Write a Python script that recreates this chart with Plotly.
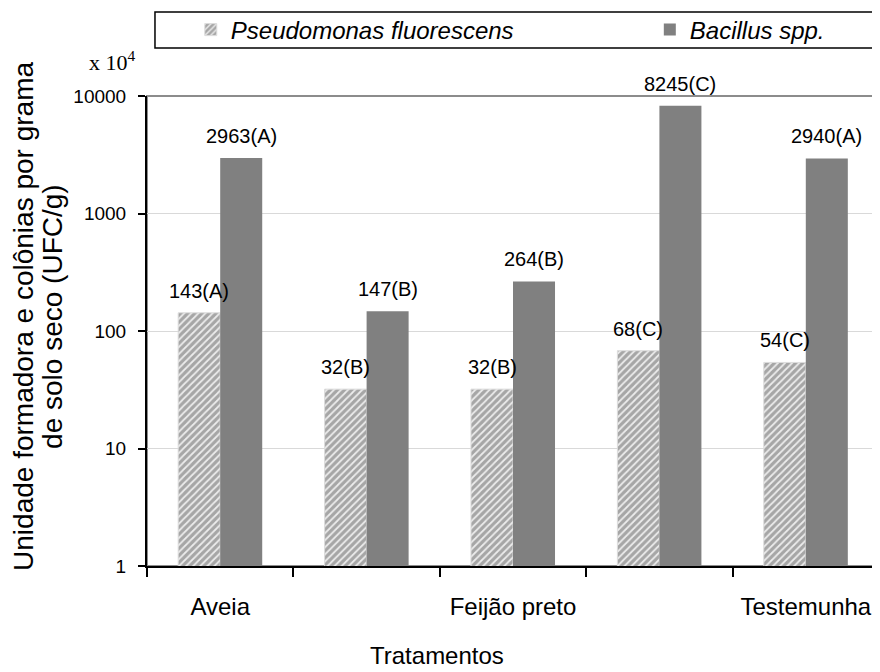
import math
import plotly.graph_objects as go

# ---- data ----
categories = ["Aveia", "Tratamento 2", "Feijão preto", "Tratamento 4", "Testemunha"]
tick_labels = ["Aveia", "", "Feijão preto", "", "Testemunha"]
pseudomonas = [143, 32, 32, 68, 54]
pseudomonas_letters = ["A", "B", "B", "C", "C"]
bacillus = [2963, 147, 264, 8245, 2940]
bacillus_letters = ["A", "B", "B", "C", "A"]
y_ticks = [1, 10, 100, 1000, 10000]
y_title_lines = ["Unidade formadora e colônias por grama", "de solo seco (UFC/g)"]

FONT = "Arial, Liberation Sans, sans-serif"
LABEL_FS = 20

fig = go.Figure()
fig.add_trace(go.Bar(
    x=categories, y=pseudomonas, name="Pseudomonas fluorescens", legend="legend",
    marker=dict(color="#a6a6a6",
                pattern=dict(shape="/", fgcolor="#ececec", bgcolor="#a6a6a6",
                             size=5, solidity=0.35, fillmode="replace"),
                line=dict(color="#dcdcdc", width=1)),
))
fig.add_trace(go.Bar(
    x=categories, y=bacillus, name="Bacillus spp.", legend="legend2",
    marker=dict(color="#808080", line=dict(width=0)),
))

annotations = []
for cat, v, l in zip(categories, pseudomonas, pseudomonas_letters):
    annotations.append(dict(x=cat, y=math.log10(v), text=f"{v}({l})", xshift=-21, yshift=22,
                            showarrow=False, font=dict(family=FONT, size=LABEL_FS, color="black")))
for cat, v, l in zip(categories, bacillus, bacillus_letters):
    annotations.append(dict(x=cat, y=math.log10(v), text=f"{v}({l})", xshift=21, yshift=22,
                            showarrow=False, font=dict(family=FONT, size=LABEL_FS, color="black")))

annotations.append(dict(xref="paper", yref="paper", x=-0.0123, y=1.075, xanchor="right",
                        yanchor="middle", text="x 10<sup>4</sup>", showarrow=False,
                        font=dict(family="Liberation Serif, Times New Roman, serif", size=22, color="black")))
annotations.append(dict(xref="paper", yref="paper", x=0.396, y=-0.191, xanchor="center",
                        yanchor="middle", text="Tratamentos", showarrow=False,
                        font=dict(family=FONT, size=24, color="black")))
for xp, line in zip([-0.168, -0.1284], y_title_lines):
    annotations.append(dict(xref="paper", yref="paper", x=xp, y=0.53, xanchor="center",
                            yanchor="middle", textangle=-90, text=line, showarrow=False,
                            font=dict(family=FONT, size=28, color="black")))

legend_common = dict(orientation="h", xanchor="left", yanchor="middle",
                     font=dict(family=FONT, size=24, style="italic", color="black"),
                     bgcolor="rgba(0,0,0,0)", borderwidth=0)

fig.update_layout(
    width=872, height=664,
    margin=dict(l=139, r=1, t=88, b=106, autoexpand=False),
    paper_bgcolor="white", plot_bgcolor="white",
    barmode="group", bargap=0.426, bargroupgap=0,
    font=dict(family=FONT, size=19, color="black"),
    showlegend=True,
    legend=dict(x=0.0598, y=1.1404, **legend_common),
    legend2=dict(x=0.6869, y=1.1404, **legend_common),
    annotations=annotations,
    shapes=[
        dict(type="rect", xref="paper", yref="paper", x0=0, x1=1, y0=0, y1=1,
             line=dict(color="#8c8c8c", width=2), layer="below"),
        dict(type="rect", xref="paper", yref="paper", x0=0.0109, x1=0.9986, y0=1.102, y1=1.1787,
             line=dict(color="black", width=1.5), layer="above"),
    ],
)
fig.update_xaxes(
    type="category", tickmode="array", tickvals=categories, ticktext=tick_labels,
    tickson="boundaries", ticks="outside", ticklen=9, tickwidth=2, tickcolor="black",
    showline=True, linecolor="black", linewidth=2, showgrid=False, automargin=False,
    ticklabelstandoff=18, tickfont=dict(family=FONT, size=24, color="black"),
)
fig.update_yaxes(
    type="log", range=[0, 4], tickmode="array", tickvals=y_ticks,
    ticktext=[str(t) for t in y_ticks], automargin=False,
    ticks="outside", ticklen=7, tickwidth=2, tickcolor="black",
    showline=True, linecolor="black", linewidth=2,
    showgrid=True, gridcolor="#d9d9d9", gridwidth=1, zeroline=False,
    ticklabelstandoff=8, tickfont=dict(family=FONT, size=19, color="black"),
)

fig.write_html("out.html")
